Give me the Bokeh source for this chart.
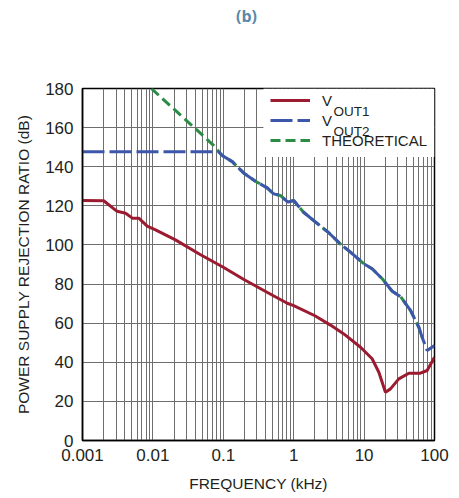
from bokeh.plotting import figure
from bokeh.layouts import column
from bokeh.models import FixedTicker, Legend, LegendItem, BoxAnnotation, Label, Div
from bokeh.embed import file_html
from bokeh.resources import INLINE

# ---- data (frequency in kHz, PSRR in dB) ----
freq_vout1 = [0.001, 0.002, 0.0031, 0.0041, 0.0051, 0.0063, 0.0083, 0.0109, 0.0209,
              0.0469, 0.1, 0.196, 0.5, 0.81, 1.0, 2.0, 3.33, 5.15, 8.9, 13.0, 16.2,
              20.1, 23.7, 31.1, 43.2, 63.1, 78.6, 100]
psrr_vout1 = [122.7, 122.6, 117.2, 116.2, 113.7, 113.7, 109.6, 107.7, 102.6,
              95.1, 88.6, 82.3, 74.3, 70.2, 69.0, 63.8, 59.0, 54.5, 47.7, 41.8, 34.9,
              24.7, 26.4, 31.5, 34.4, 34.4, 35.8, 42.6]

freq_vout2 = [0.001, 0.086, 0.0965, 0.134, 0.196, 0.286, 0.42, 0.52, 0.646, 0.826, 1.0,
              1.38, 3.2, 4.6, 6.4, 10.0, 13.0, 18.1, 25.1, 32.9, 45.6, 59.9, 66.7, 78.6, 100]
psrr_vout2 = [147.7, 147.7, 145.7, 142.6, 136.7, 132.6, 129.2, 126.1, 125.3, 121.9, 122.7,
              116.7, 106.0, 100.5, 96.3, 90.3, 87.8, 82.7, 76.3, 73.6, 66.5, 57.9, 52.8, 46.0, 48.6]

freq_theory = [0.0095, 0.0403, 0.0733, 0.086, 0.0965, 0.134, 0.196, 0.286, 0.42, 0.52, 0.646,
               0.826, 1.0, 1.38, 3.2, 4.6, 6.4, 10.0, 13.0, 18.1, 25.1, 32.9, 45.6, 59.9, 66.7]
psrr_theory = [180.0, 159.4, 150.8, 147.7, 145.7, 142.6, 136.7, 132.6, 129.2, 126.1, 125.3,
               121.9, 122.7, 116.7, 106.0, 100.5, 96.3, 90.3, 87.8, 82.7, 76.3, 73.6, 66.5, 57.9, 52.8]

y_ticks = [0, 20, 40, 60, 80, 100, 120, 140, 160, 180]
x_ticks = [0.001, 0.01, 0.1, 1, 10, 100]
x_tick_labels = ["0.001", "0.01", "0.1", "1", "10", "100"]

FONT = "Liberation Sans"
TXT = "#231f20"
RED = "#9b1b30"
BLUE = "#3c56aa"
GREEN = "#2b8c46"
GRID = "#6e6e6e"

title_div = Div(
    text=('<div style="padding:5px 0 0 236px;font-family:\'Open Sans\';font-weight:bold;'
          'font-size:16px;line-height:22px;color:#5b87a8;white-space:nowrap">(b)</div>'),
    width=456, height=26, margin=0)

p = figure(width=456, height=470, x_axis_type="log", x_range=(0.001, 100), y_range=(0, 180),
           output_backend="svg", toolbar_location=None, margin=0,
           min_border_left=82, min_border_right=22, min_border_top=62, min_border_bottom=56)

# grid
minor_positions = [m * 10.0 ** e for e in range(-3, 2) for m in range(1, 10)] + [100.0]
p.xgrid.ticker = FixedTicker(ticks=minor_positions)
p.ygrid.ticker = FixedTicker(ticks=y_ticks)
for g in (p.xgrid, p.ygrid):
    g.grid_line_color = GRID
    g.grid_line_width = 1
    g.grid_line_alpha = 1

# axes
p.xaxis.ticker = FixedTicker(ticks=x_ticks)
p.xaxis.major_label_overrides = {t: s for t, s in zip(x_ticks, x_tick_labels)}
p.yaxis.ticker = FixedTicker(ticks=y_ticks)
for ax in (p.xaxis, p.yaxis):
    ax.major_tick_out = 0
    ax.major_tick_in = 0
    ax.minor_tick_out = 0
    ax.minor_tick_in = 0
    ax.axis_line_color = "black"
    ax.axis_line_width = 1.5
    ax.major_label_text_font = FONT
    ax.major_label_text_font_size = "17px"
    ax.major_label_text_color = TXT
    ax.axis_label_text_font = FONT
    ax.axis_label_text_font_size = "15.5px"
    ax.axis_label_text_font_style = "normal"
    ax.axis_label_text_color = TXT
p.xaxis.axis_label = "FREQUENCY (kHz)"
p.yaxis.axis_label = "POWER SUPPLY REJECTION RATIO (dB)"
p.xaxis.major_label_standoff = 8
p.yaxis.major_label_standoff = 9
p.xaxis.axis_label_standoff = 11
p.yaxis.axis_label_standoff = 10

p.outline_line_color = "black"
p.outline_line_width = 1.5
p.outline_line_alpha = 1

# curves
r_th = p.line(freq_theory, psrr_theory, line_color=GREEN, line_width=3, line_dash="10 5")
r_v2 = p.line(freq_vout2, psrr_vout2, line_color=BLUE, line_width=3, line_dash="22 5")
r_v1 = p.line(freq_vout1, psrr_vout1, line_color=RED, line_width=3)

# legend background (white block hiding the grid)
p.add_layout(BoxAnnotation(left=0.372, bottom=145, fill_color="white", fill_alpha=1,
                           line_color=None, level="annotation"))

legend = Legend(items=[LegendItem(label="V", renderers=[r_v1]),
                       LegendItem(label="V", renderers=[r_v2]),
                       LegendItem(label="THEORETICAL", renderers=[r_th])],
                location=(188, 290), orientation="vertical",
                glyph_width=40, glyph_height=12, label_height=20, label_standoff=12,
                padding=0, margin=0, spacing=0,
                background_fill_alpha=0, border_line_color=None,
                label_text_font=FONT, label_text_font_size="15px", label_text_color=TXT)
p.add_layout(legend)

sub_kw = dict(x_units="canvas", y_units="canvas", text_font=FONT,
              text_font_size="13.5px", text_color=TXT, text_baseline="middle", text_align="left")
p.add_layout(Label(x=333, y=85, text="OUT1", **sub_kw))
p.add_layout(Label(x=333, y=105, text="OUT2", **sub_kw))

layout = column(title_div, p, spacing=0)

open("out.html", "w").write(file_html(layout, INLINE))
